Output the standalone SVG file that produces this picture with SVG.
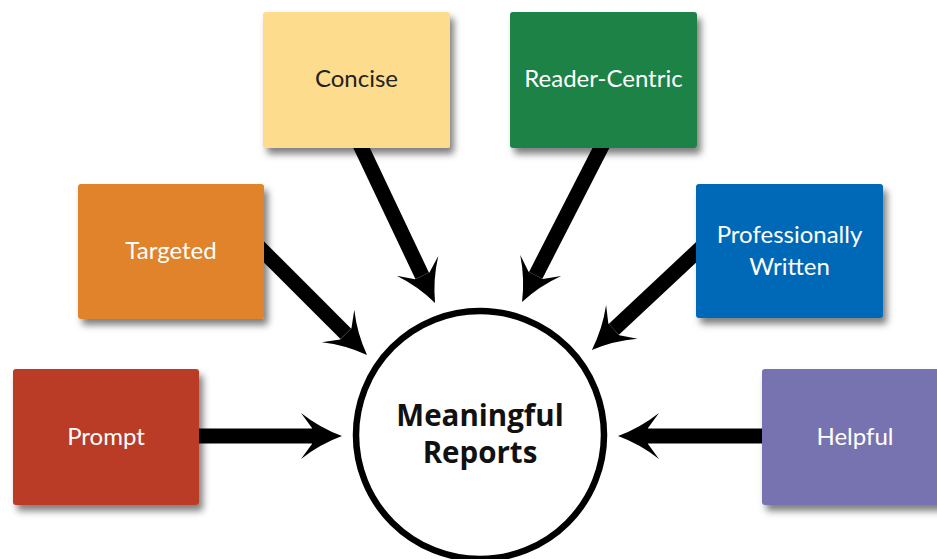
<svg xmlns="http://www.w3.org/2000/svg" width="937" height="559" viewBox="0 0 937 559">
  <style>
    .box { stroke: none; filter: url(#shadow); }
    .label { font-family: Lato, "Open Sans", "Liberation Sans", sans-serif; font-weight: 400; font-size: 24px; text-anchor: middle; fill: #ffffff; }
    .dark { fill: #222222; }
    .shaft { stroke: #000000; stroke-width: 15; fill: none; marker-end: url(#barb); }
    .hub-text { font-family: "Open Sans", "Liberation Sans", sans-serif; font-weight: bold; font-size: 29.5px; text-anchor: middle; fill: #111111; }
  </style>
  <defs>
    <filter id="shadow" x="-20%" y="-20%" width="150%" height="150%">
      <feDropShadow dx="4" dy="6" stdDeviation="3.5" flood-color="#000000" flood-opacity="0.5"/>
    </filter>
    <!-- barbed arrowhead; reference point sits at the notch where the shaft ends -->
    <marker id="barb" markerUnits="userSpaceOnUse" orient="auto" refX="10" refY="0" markerWidth="60" markerHeight="60" viewBox="-5 -30 50 60" overflow="visible">
      <path d="M40,0 Q18,-8 -1,-23 L10,-8 L10,8 L-1,23 Q18,8 40,0 Z" fill="#000000"/>
    </marker>
  </defs>

  <rect width="937" height="559" fill="#ffffff"/>

  <!-- connectors -->
  <g id="connectors">
    <line class="shaft" x1="190" y1="436" x2="312" y2="436"/>
    <line class="shaft" x1="770" y1="436" x2="648" y2="436"/>
    <line class="shaft" x1="255" y1="243" x2="345.8" y2="333.8"/>
    <line class="shaft" x1="354" y1="132" x2="422.2" y2="275.9"/>
    <line class="shaft" x1="605" y1="140" x2="535.7" y2="275.3"/>
    <line class="shaft" x1="705" y1="244" x2="613.8" y2="329.4"/>
  </g>

  <!-- central hub -->
  <g id="hub">
    <circle cx="480" cy="435" r="124" fill="#ffffff" stroke="#000000" stroke-width="6.5"/>
    <text class="hub-text" x="480" y="426">Meaningful</text>
    <text class="hub-text" x="480" y="463">Reports</text>
  </g>

  <g id="concise">
    <rect class="box" x="263" y="12" width="187" height="136" rx="3" fill="#fddc8e"/>
    <text class="label dark" x="356.5" y="87">Concise</text>
  </g>

  <g id="reader-centric">
    <rect class="box" x="510" y="12" width="187" height="136" rx="3" fill="#1e8245"/>
    <text class="label" x="603.5" y="87">Reader-Centric</text>
  </g>

  <g id="targeted">
    <rect class="box" x="78" y="184" width="186" height="135" rx="3" fill="#e0832a"/>
    <text class="label" x="171" y="259">Targeted</text>
  </g>

  <g id="professionally-written">
    <rect class="box" x="696" y="184" width="187" height="134" rx="3" fill="#0369b7"/>
    <text class="label" x="789.5" y="243">Professionally</text>
    <text class="label" x="789.5" y="275">Written</text>
  </g>

  <g id="prompt">
    <rect class="box" x="13" y="369" width="186" height="136" rx="3" fill="#ba3a26"/>
    <text class="label" x="106" y="445">Prompt</text>
  </g>

  <g id="helpful">
    <rect class="box" x="762" y="369" width="186" height="136" rx="3" fill="#7773b0"/>
    <text class="label" x="855" y="445">Helpful</text>
  </g>
</svg>
